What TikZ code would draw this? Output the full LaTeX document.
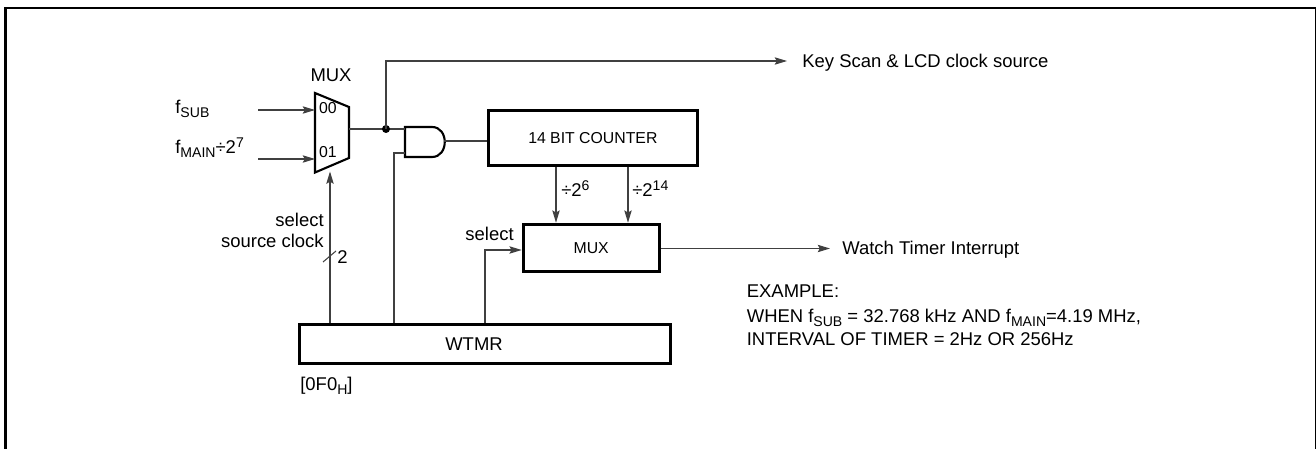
\documentclass[tikz,border=0pt]{standalone}
\usepackage{fontspec}
\setmainfont{Liberation Sans}
\usetikzlibrary{arrows.meta, positioning}
\newcommand{\subtxt}[1]{\raisebox{-0.4ex}{\fontsize{8}{8}\selectfont #1}}
\newcommand{\suptxt}[1]{\raisebox{0.62ex}{\fontsize{8}{8}\selectfont #1}}
\tikzset{
  boxnode/.style={rectangle,draw=black,line width=1.7pt,inner sep=0pt,anchor=north west,font=\fontsize{9}{11}\selectfont},
  lbl/.style={inner sep=0pt,font=\fontsize{10.5}{12}\selectfont},
  smalllbl/.style={inner sep=0pt,font=\fontsize{9}{11}\selectfont},
  wire/.style={line width=0.6pt,draw=black!75},
  arr/.style={wire,-{Stealth[length=7pt,width=4.2pt,inset=1.2pt]}},
  gateline/.style={line width=1.2pt,draw=black,line join=miter}
}

\begin{document}
\begin{tikzpicture}[x=0.02cm,y=-0.02cm]
  \useasboundingbox (0,0) rectangle (1316,449);

  % Outer frame, open at the bottom
  \draw[line width=1.4pt] (5.3,449) -- (5.3,8) -- (1316,8) -- (1316,449);

  % Input multiplexer
  \coordinate (muxtl) at (315,93);
  \coordinate (muxtr) at (349,107);
  \coordinate (muxbr) at (349,158);
  \coordinate (muxbl) at (315,172.5);
  \coordinate (muxina) at (315,110);
  \coordinate (muxinb) at (315,159);
  \coordinate (muxout) at (349,129);
  \coordinate (muxsel) at (330,171.5);
  \draw[gateline] (muxtl) -- (muxtr) -- (muxbr) -- (muxbl) -- cycle;
  \node[smalllbl] (muxa) at (328,108) {00};
  \node[smalllbl] (muxb) at (328,152) {01};
  \node[lbl,anchor=base] (muxname) at (331,82) {MUX};

  % Inputs
  \coordinate (fsubin) at (258,110);
  \coordinate (fmainin) at (258,159);
  \node[lbl,anchor=base west] (fsub) at (175,113.5) {f\subtxt{SUB}};
  \node[lbl,anchor=base west] (fmain) at (175,154) {f\subtxt{MAIN}÷2\suptxt{7}};
  \draw[arr] (fsubin) -- (muxina);
  \draw[arr] (fmainin) -- (muxinb);

  % AND gate
  \coordinate (anda) at (405,129);
  \coordinate (andb) at (405,153);
  \coordinate (andout) at (444,141);
  \draw[gateline] (405,127) -- (432,127) .. controls (449,127) and (449,157) .. (432,157)
    -- (405,157) -- cycle;

  % Counter and second multiplexer
  \node[boxnode,minimum width=118.8pt,minimum height=31.2pt] (counter) at (487,109.2) {14 BIT COUNTER};
  \node[boxnode,minimum width=77.4pt,minimum height=27pt] (muxtwo) at (521.7,222.7) {MUX};
  \node[boxnode,minimum width=211pt,minimum height=22.4pt] (wtmr) at (298.3,322.7) {};
  \node[lbl] (wtmrname) at (474,344) {WTMR};

  % Outputs
  \node[lbl,anchor=base west] (keyscan) at (802,68) {Key Scan \& LCD clock source};
  \node[lbl,anchor=base west] (watch) at (842,255) {Watch Timer Interrupt};
  \coordinate (keyend) at (787,61);
  \coordinate (watchend) at (830,248.5);
  \coordinate (junct) at (386,129);
  \coordinate (muxtwoin) at (muxtwo.west|-0,250);

  % Connectors
  \draw[wire] (muxout) -- (anda);
  \fill (junct) circle[radius=4];
  \draw[arr] (junct) |- (keyend);
  \draw[wire] (andout) -- (andout-|counter.west);
  \draw[wire] (andb) -| (wtmr.north-|394,0);
  \draw[arr] (wtmr.north-|330,0) -- (muxsel);
  \draw[arr] (counter.south-|556,0) -- (muxtwo.north-|556,0);
  \draw[arr] (counter.south-|628,0) -- (muxtwo.north-|628,0);
  \draw[arr] (wtmr.north-|485,0) |- (muxtwoin);
  \draw[arr] (muxtwo.east|-watchend) -- (watchend);
  \draw[wire] (323,262) -- (336,251);

  % Labels
  \node[lbl,anchor=base east] (sela) at (324,227) {select};
  \node[lbl,anchor=base east] (selb) at (324,248) {source clock};
  \node[lbl,anchor=base west] (two) at (337,264) {2};
  \node[lbl,anchor=base east] (selc) at (514,241) {select};
  \node[lbl,anchor=base west] (diva) at (561,197) {÷2\suptxt{6}};
  \node[lbl,anchor=base west] (divb) at (632,197) {÷2\suptxt{14}};
  \node[lbl,anchor=base west] (addr) at (300,391) {[0F0\subtxt{H}]};
  \node[lbl,anchor=base west] (exa) at (746.5,298) {EXAMPLE:};
  \node[lbl,anchor=base west] (exb) at (746.5,323) {WHEN f\subtxt{SUB} = 32.768 kHz AND f\subtxt{MAIN}=4.19 MHz,};
  \node[lbl,anchor=base west] (exc) at (746.5,346) {INTERVAL OF TIMER = 2Hz OR 256Hz};
\end{tikzpicture}
\end{document}
